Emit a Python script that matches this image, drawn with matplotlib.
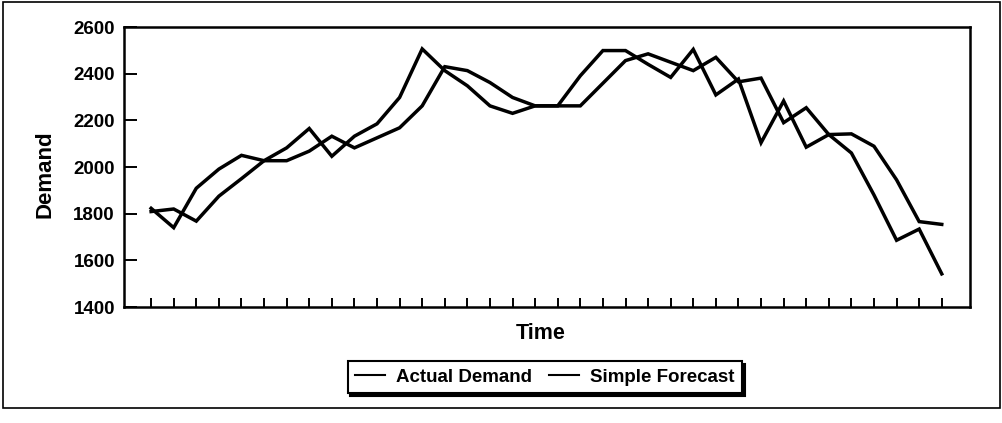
import matplotlib
matplotlib.use("Agg")
import matplotlib.pyplot as plt
from matplotlib.patches import Rectangle

periods = list(range(36))
actual_demand = [1823, 1740, 1909, 1991, 2050, 2027, 2082, 2165, 2046, 2132,
                 2185, 2298, 2506, 2413, 2348, 2262, 2230, 2262, 2262, 2391,
                 2499, 2499, 2440, 2384, 2504, 2309, 2377, 2104, 2283, 2085,
                 2139, 2060, 1880, 1686, 1734, 1542]
simple_forecast = [1809, 1820, 1768, 1875, 1950, 2027, 2027, 2068, 2132, 2082,
                   2125, 2168, 2262, 2430, 2413, 2362, 2298, 2262, 2262, 2262,
                   2359, 2456, 2485, 2449, 2413, 2470, 2365, 2381, 2190, 2254,
                   2139, 2142, 2089, 1945, 1766, 1754]
y_ticks = [1400, 1600, 1800, 2000, 2200, 2400, 2600]

plt.rcParams['font.family'] = ['Liberation Sans', 'DejaVu Sans']

W, H = 1002, 423
fig = plt.figure(figsize=(W / 100, H / 100), dpi=100)

# outer frame
fig.patches.append(Rectangle((3 / W, 1 - 408 / H), 997 / W, 406 / H,
                             transform=fig.transFigure, fill=False,
                             edgecolor='black', linewidth=1.2))

left, right, top, bottom = 124, 970, 27, 307
ax = fig.add_axes([left / W, 1 - bottom / H, (right - left) / W, (bottom - top) / H])

ax.plot(periods, actual_demand, color='black', linewidth=2.5,
        solid_joinstyle='miter', label='Actual Demand')
ax.plot(periods, simple_forecast, color='black', linewidth=2.5,
        solid_joinstyle='miter', label='Simple Forecast')

ax.set_xlim(-1.2, 36.25)
ax.set_ylim(1400, 2600)
ax.set_yticks(y_ticks)
ax.set_xticks(periods)
ax.set_xticklabels([])
ax.tick_params(axis='y', direction='in', length=9.5, width=1.4, pad=6.5,
               labelsize=13.5)
ax.tick_params(axis='x', direction='in', length=6.5, width=1.4)
for lab in ax.get_yticklabels():
    lab.set_fontweight('bold')
for sp in ax.spines.values():
    sp.set_linewidth(1.8)

fig.text(45 / W, 1 - 174 / H, 'Demand', rotation=90, ha='center', va='center',
         fontsize=16, fontweight='bold')
fig.text(541 / W, 1 - 333 / H, 'Time', ha='center', va='center',
         fontsize=15.5, fontweight='bold')

leg = fig.legend(loc='center', bbox_to_anchor=(545 / W, 1 - 377 / H), ncol=2,
                 frameon=True, fancybox=False, shadow={'color': 'black', 'alpha': 1},
                 handlelength=1.6, handletextpad=0.6, columnspacing=0.9,
                 borderpad=0.4, prop={'size': 13.5, 'weight': 'bold'})
leg.get_frame().set_edgecolor('black')
leg.get_frame().set_linewidth(1.5)
for h in leg.get_lines():
    h.set_linewidth(1.5)

fig.savefig('out.png', dpi=100)
